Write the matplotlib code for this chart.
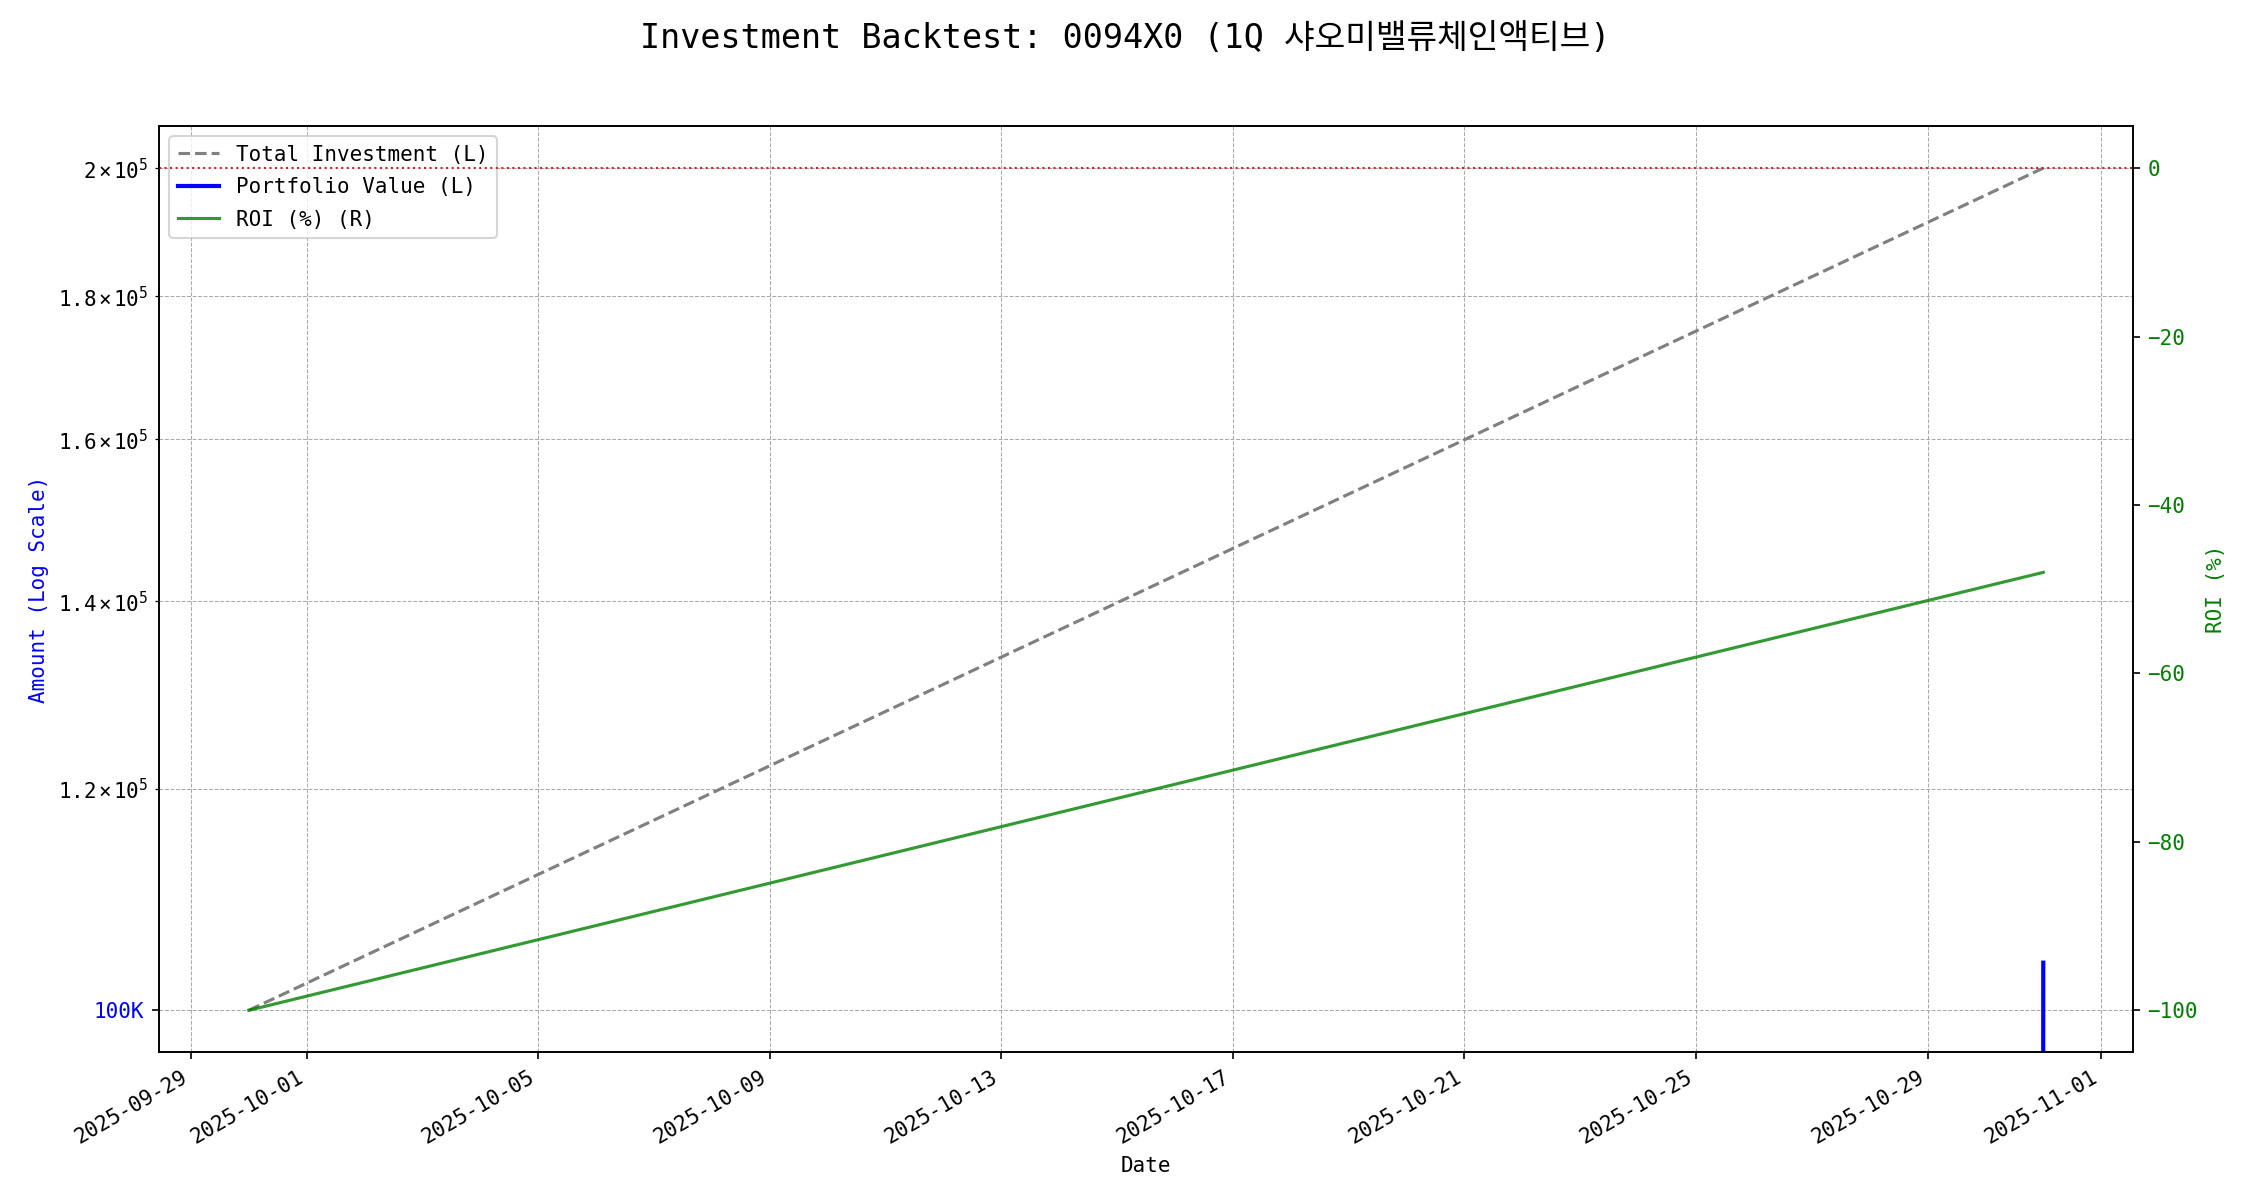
import matplotlib
matplotlib.use("Agg")
import matplotlib.pyplot as plt
from matplotlib.ticker import FuncFormatter
import pandas as pd

plt.rcParams['font.family'] = ['DejaVu Sans Mono', 'Noto Sans CJK KR']
plt.rcParams['mathtext.fontset'] = 'custom'
plt.rcParams['mathtext.rm'] = 'DejaVu Sans Mono'
plt.rcParams['mathtext.it'] = 'DejaVu Sans Mono'
plt.rcParams['mathtext.bf'] = 'DejaVu Sans Mono'

# Backtest snapshot data
dates = pd.to_datetime(["2025-09-30", "2025-10-31"])
total_investment = [100000, 200000]
portfolio_value = [0, 104000]
roi_pct = [-100.0, -48.0]

ticker = "0094X0"
name = "1Q 샤오미밸류체인액티브"

fig, ax1 = plt.subplots(figsize=(15, 8), dpi=150)

l1, = ax1.plot(dates, total_investment, color='gray', linestyle='--', linewidth=1.5,
               label='Total Investment (L)')
l2, = ax1.plot(dates, portfolio_value, color='blue', linewidth=2,
               label='Portfolio Value (L)')
ax1.set_yscale('log')
ax1.yaxis.set_major_formatter(FuncFormatter(lambda v, p: f"{v/1000:.0f}K"))
ax1.set_ylabel('Amount (Log Scale)', color='blue')
ax1.tick_params(axis='y', labelcolor='blue')
ax1.set_xlabel('Date')
ax1.grid(True, which='both', linestyle='--', linewidth=0.5, color='#aaaaaa')

ax2 = ax1.twinx()
l3, = ax2.plot(dates, roi_pct, color='green', alpha=0.8, linewidth=1.5, label='ROI (%) (R)')
ax2.axhline(0, color='#cc2222', linestyle=':', linewidth=1)
ax2.set_ylabel('ROI (%)', color='green')
ax2.tick_params(axis='y', labelcolor='green')

ax1.legend(handles=[l1, l2, l3], loc='upper left', labelspacing=0.6)

fig.suptitle(f"Investment Backtest: {ticker} ({name})", fontsize=16, y=0.982)
fig.autofmt_xdate()
fig.subplots_adjust(left=0.0707, right=0.948, top=0.895, bottom=0.123)

fig.savefig("out.png", dpi=150)
